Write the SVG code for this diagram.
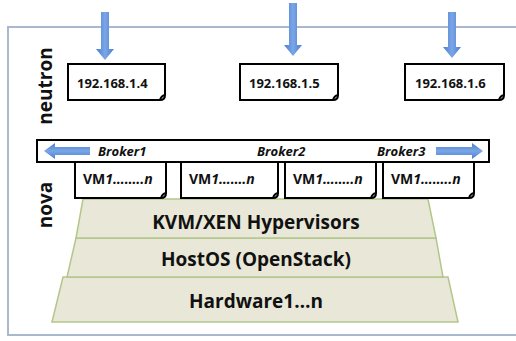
<svg xmlns="http://www.w3.org/2000/svg" width="516" height="341" viewBox="0 0 516 341">
<defs>
<linearGradient id="vg" x1="0" y1="0" x2="1" y2="0"><stop offset="0" stop-color="#4a7fd0"/><stop offset="0.5" stop-color="#7ba6e6"/><stop offset="1" stop-color="#4a7fd0"/></linearGradient>
<linearGradient id="hg" x1="0" y1="0" x2="0" y2="1"><stop offset="0" stop-color="#4a7fd0"/><stop offset="0.5" stop-color="#7ba6e6"/><stop offset="1" stop-color="#4a7fd0"/></linearGradient>
</defs>
<style>
.frame{fill:#fff;stroke:#a9b8cc;stroke-width:2}
.box{fill:#fff;stroke:#000;stroke-width:2}
.ip{font-family:"Open Sans","Liberation Sans",sans-serif;font-weight:bold;font-size:13px;fill:#111}
.brk{font-family:"Open Sans","Liberation Sans",sans-serif;font-weight:bold;font-style:italic;font-size:13px;fill:#111}
.vm{font-family:"Open Sans","Liberation Sans",sans-serif;font-weight:bold;font-size:14px;fill:#111}
.layer{fill:#e9e8d8;stroke:#b3c68a;stroke-width:1.5}
.lt{font-family:"Open Sans","Liberation Sans",sans-serif;font-weight:bold;font-size:19px;fill:#111;text-anchor:middle}
.side{font-family:"Open Sans","Liberation Sans",sans-serif;font-weight:bold;font-size:19px;fill:#111;text-anchor:middle}
.va{fill:url(#vg)}
.ha{fill:url(#hg)}
</style>
<rect class="frame" x="8" y="27" width="520" height="308"/>
<text class="side" transform="translate(52,86) rotate(-90)">neutron</text>
<text class="side" transform="translate(52,205) rotate(-90)">nova</text>
<g id="layers">
<g id="hardware"><polygon class="layer" points="63,277 448,277 458,322 52,322"/><text class="lt" x="256" y="308">Hardware1…n</text></g>
<g id="hostos"><polygon class="layer" points="76,238 436,238 443,277 67,277"/><text class="lt" x="256" y="266">HostOS (OpenStack)</text></g>
<g id="kvm"><polygon class="layer" points="83,199 428,199 436,238 76,238"/><text class="lt" x="256" y="229">KVM/XEN Hypervisors</text></g>
</g>
<g id="ip1"><path class="box" d="M68,64 H165 V95 Q165,100 160,100 H68 Z"/><path d="M160,100 Q161,96 165,95" fill="none" stroke="#000" stroke-width="2"/><text class="ip" x="77" y="88">192.168.1.4</text></g>
<g id="ip2"><path class="box" d="M240,64 H338 V95 Q338,100 333,100 H240 Z"/><path d="M333,100 Q334,96 338,95" fill="none" stroke="#000" stroke-width="2"/><text class="ip" x="249" y="88">192.168.1.5</text></g>
<g id="ip3"><path class="box" d="M405,64 H504 V95 Q504,100 499,100 H405 Z"/><path d="M499,100 Q500,96 504,95" fill="none" stroke="#000" stroke-width="2"/><text class="ip" x="415" y="88">192.168.1.6</text></g>
<g id="vm1"><path class="box" d="M75,162 H166 V193 Q166,198 161,198 H75 Z"/><path d="M161,198 Q162,194 166,193" fill="none" stroke="#000" stroke-width="2"/><text class="vm" x="83" y="184">VM<tspan font-style="italic">1……..n</tspan></text></g>
<g id="vm2"><path class="box" d="M181,162 H278 V193 Q278,198 273,198 H181 Z"/><path d="M273,198 Q274,194 278,193" fill="none" stroke="#000" stroke-width="2"/><text class="vm" x="189" y="184">VM<tspan font-style="italic">1…….n</tspan></text></g>
<g id="vm3"><path class="box" d="M285,162 H376 V193 Q376,198 371,198 H285 Z"/><path d="M371,198 Q372,194 376,193" fill="none" stroke="#000" stroke-width="2"/><text class="vm" x="293" y="184">VM<tspan font-style="italic">1……..n</tspan></text></g>
<g id="vm4"><path class="box" d="M383,162 H474 V193 Q474,198 469,198 H383 Z"/><path d="M469,198 Q470,194 474,193" fill="none" stroke="#000" stroke-width="2"/><text class="vm" x="391" y="184">VM<tspan font-style="italic">1……..n</tspan></text></g>
<g id="brokers"><rect class="box" x="37" y="140" width="452" height="22"/>
<text class="brk" x="98" y="156">Broker1</text><text class="brk" x="257" y="156">Broker2</text><text class="brk" x="377" y="156">Broker3</text></g>
<g id="connectors">
<path class="va" d="M101,12 H109 V49 H114 L105,60 L96,49 H101 Z"/>
<path class="va" d="M289,3 H297 V45 H302 L293,56 L284,45 H289 Z"/>
<path class="va" d="M448,12 H456 V47 H461 L452,58 L443,47 H448 Z"/>
<path class="ha" d="M90,147 V155 H55 V159 L44,151 L55,143 V147 Z"/>
<path class="ha" d="M436,147 V155 H472 V159 L483,151 L472,143 V147 Z"/>
</g>
</svg>
